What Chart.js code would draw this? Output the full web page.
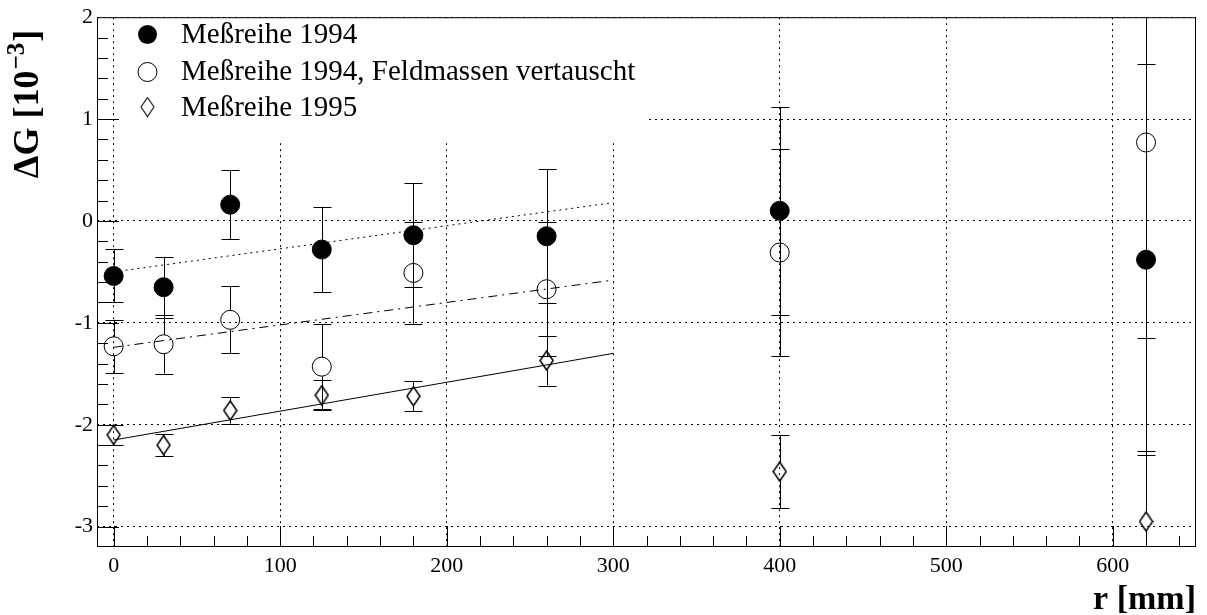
<!DOCTYPE html>
<html><head><meta charset="utf-8">
<script src="https://cdn.jsdelivr.net/npm/chart.js@4.4.1/dist/chart.umd.min.js"></script>
<style>html,body{margin:0;padding:0;background:#fff;} canvas{display:block;}</style>
</head><body>
<canvas id="c" width="1207" height="615"></canvas>
<script>
// ---- data ----
const rValues = [0, 30, 70, 125, 180, 260, 400, 620];
const series1994 = [-0.54, -0.65, 0.16, -0.28, -0.14, -0.15, 0.10, -0.38];
const err1994 = [0.26, 0.30, 0.34, 0.42, 0.51, 0.66, 1.02, 1.92];
const series1994swap = [-1.23, -1.21, -0.97, -1.43, -0.51, -0.67, -0.31, 0.77];
const err1994swap = [0.26, 0.29, 0.33, 0.42, 0.50, 0.66, 1.02, 1.92];
const series1995 = [-2.10, -2.20, -1.86, -1.71, -1.72, -1.37, -2.46, -2.95];
const err1995 = [0.10, 0.11, 0.13, 0.15, 0.145, 0.245, 0.36, 0.69];
const fitR = [0, 300];
const fit1994 = [-0.50, 0.18];
const fit1994swap = [-1.24, -0.58];
const fit1995 = [-2.15, -1.30];
const legendLabels = ['Meßreihe 1994', 'Meßreihe 1994, Feldmassen vertauscht', 'Meßreihe 1995'];
const xTicks = [0, 100, 200, 300, 400, 500, 600];
const yTicks = [-3, -2, -1, 0, 1, 2];
const yTitleParts = ['\u0394G [10', '\u22123', ']'];
const xTitle = 'r [mm]';

const SERIF = '"Liberation Serif", "Times New Roman", serif';
function pts(xs, ys) { return xs.map((x, i) => ({ x: x, y: ys[i] })); }

function makeDiamond(lw) {
  const c = document.createElement('canvas'); c.width = 15; c.height = 21;
  const g = c.getContext('2d'); g.strokeStyle = '#000'; g.lineWidth = lw;
  g.beginPath(); g.moveTo(7.5, 1); g.lineTo(14, 10.5); g.lineTo(7.5, 20); g.lineTo(1, 10.5); g.closePath(); g.stroke();
  return c;
}
const diamondImg = makeDiamond(1.5);
const diamondLegendImg = makeDiamond(1.1);

function drawMarker(ctx, kind, x, y) {
  ctx.save();
  ctx.strokeStyle = '#000'; ctx.fillStyle = '#000'; ctx.lineWidth = 1;
  if (kind === 'filled') { ctx.beginPath(); ctx.arc(x, y, 9.5, 0, Math.PI * 2); ctx.fill(); }
  else if (kind === 'open') { ctx.beginPath(); ctx.arc(x, y, 9.5, 0, Math.PI * 2); ctx.stroke(); }
  else { ctx.drawImage(diamondLegendImg, x - 7.5, y - 10.5); }
  ctx.restore();
}

// legend box (white, hides grid), drawn after the grid, before data
const legendBoxPlugin = {
  id: 'legendBox',
  beforeDatasetsDraw(chart) {
    const { ctx, chartArea: a } = chart;
    ctx.save(); ctx.fillStyle = '#fff';
    ctx.fillRect(121, a.top + 1, 645 - 121, 142 - a.top - 1);
    ctx.restore();
  },
  afterDatasetsDraw(chart) {
    const { ctx } = chart;
    const kinds = ['filled', 'open', 'diamond'];
    const my = [34.5, 72, 107];
    const by = [43, 80, 116];
    ctx.save();
    ctx.fillStyle = '#000'; ctx.font = '29px ' + SERIF; ctx.textBaseline = 'alphabetic'; ctx.textAlign = 'left';
    legendLabels.forEach((t, i) => {
      drawMarker(ctx, kinds[i], 147.5, my[i]);
      ctx.fillText(t, 181, by[i]);
    });
    ctx.restore();
  }
};

const errorBarPlugin = {
  id: 'errorBars',
  beforeDatasetsDraw(chart) {
    const { ctx, chartArea: a, scales: { x, y } } = chart;
    ctx.save();
    ctx.beginPath(); ctx.rect(a.left, a.top, a.right - a.left, a.bottom - a.top); ctx.clip();
    ctx.strokeStyle = '#000'; ctx.lineWidth = 1;
    chart.data.datasets.forEach(ds => {
      if (!ds.errors) return;
      ds.data.forEach((p, i) => {
        const e = ds.errors[i];
        const px = Math.round(x.getPixelForValue(p.x)) + 0.5;
        const py = y.getPixelForValue(p.y);
        const pt = y.getPixelForValue(p.y + e), pb = y.getPixelForValue(p.y - e);
        const g = ds.gap;
        ctx.beginPath();
        if (pt < py - g) { ctx.moveTo(px, pt); ctx.lineTo(px, py - g); }
        if (pb > py + g) { ctx.moveTo(px, py + g); ctx.lineTo(px, pb); }
        const ct = Math.round(pt) + 0.5, cb = Math.round(pb) + 0.5;
        ctx.moveTo(px - 9, ct); ctx.lineTo(px + 9, ct);
        ctx.moveTo(px - 9, cb); ctx.lineTo(px + 9, cb);
        ctx.stroke();
      });
    });
    ctx.restore();
  }
};

const framePlugin = {
  id: 'frame',
  afterDraw(chart) {
    const { ctx, chartArea: a, scales: { x, y } } = chart;
    ctx.save();
    ctx.strokeStyle = '#000'; ctx.lineWidth = 1;
    ctx.strokeRect(a.left + 0.5, a.top + 0.5, a.right - a.left - 1, a.bottom - a.top - 1);
    ctx.beginPath();
    for (let t = -15; t <= 9; t++) {
      const py = Math.round(y.getPixelForValue(t / 5)) + 0.5;
      const len = (t % 5 === 0) ? 22 : 11;
      ctx.moveTo(a.left, py); ctx.lineTo(a.left + len, py);
    }
    for (let v = 0; v <= 640; v += 20) {
      const px = Math.round(x.getPixelForValue(v)) + 0.5;
      const len = (v % 100 === 0) ? 21 : 11;
      ctx.moveTo(px, a.bottom); ctx.lineTo(px, a.bottom - len);
    }
    ctx.stroke();
    // y axis title with superscript
    ctx.translate(38, 105);
    ctx.rotate(-Math.PI / 2);
    ctx.fillStyle = '#000'; ctx.textBaseline = 'alphabetic'; ctx.textAlign = 'left';
    const big = 'bold 36px ' + SERIF, small = 'bold 25px ' + SERIF;
    ctx.font = big; const w0 = ctx.measureText(yTitleParts[0]).width; const w2 = ctx.measureText(yTitleParts[2]).width;
    ctx.font = small; const w1 = ctx.measureText(yTitleParts[1]).width;
    let sx = -(w0 + w1 + w2) / 2;
    ctx.font = big; ctx.fillText(yTitleParts[0], sx, 0); sx += w0 + 1;
    ctx.font = small; ctx.fillText(yTitleParts[1], sx, -14); sx += w1 + 1;
    ctx.font = big; ctx.fillText(yTitleParts[2], sx, 0);
    ctx.restore();
  }
};

const chart = new Chart(document.getElementById('c'), {
  type: 'scatter',
  data: {
    datasets: [
      { type: 'line', data: pts(fitR, fit1994), borderColor: '#000', borderWidth: 1, borderDash: [2, 4], pointRadius: 0, fill: false },
      { type: 'line', data: pts(fitR, fit1994swap), borderColor: '#000', borderWidth: 1, borderDash: [9, 5, 2, 5], pointRadius: 0, fill: false },
      { type: 'line', data: pts(fitR, fit1995), borderColor: '#000', borderWidth: 1, pointRadius: 0, fill: false },
      { label: legendLabels[0], data: pts(rValues, series1994), errors: err1994, gap: 9.5,
        pointStyle: 'circle', pointRadius: 9.5, backgroundColor: '#000', borderColor: '#000', borderWidth: 1 },
      { label: legendLabels[1], data: pts(rValues, series1994swap), errors: err1994swap, gap: 9.5,
        pointStyle: 'circle', pointRadius: 9.5, backgroundColor: 'rgba(0,0,0,0)', borderColor: '#000', borderWidth: 1 },
      { label: legendLabels[2], data: pts(rValues, series1995), errors: err1995, gap: 9.5,
        pointStyle: diamondImg, pointRadius: 10, backgroundColor: 'rgba(0,0,0,0)', borderColor: '#000', borderWidth: 1 }
    ]
  },
  options: {
    responsive: false, animation: false, devicePixelRatio: 1,
    layout: { padding: { top: 14, right: 9, left: 0, bottom: 0 } },
    plugins: { legend: { display: false }, tooltip: { enabled: false } },
    scales: {
      x: {
        type: 'linear', min: -10, max: 650,
        afterBuildTicks: s => { s.ticks = xTicks.map(v => ({ value: v })); },
        afterFit: s => { s.height = 68; },
        grid: { color: '#000', lineWidth: 1, drawTicks: false },
        border: { display: false, dash: [2, 4] },
        ticks: { color: '#000', font: { family: SERIF, size: 22 }, padding: 6, maxRotation: 0, autoSkip: false },
        title: { display: true, text: xTitle, align: 'end', color: '#000',
          font: { family: SERIF, size: 34, weight: 'bold', lineHeight: 1.2 }, padding: { top: 0, bottom: -6 } }
      },
      y: {
        type: 'linear', min: -3.2, max: 2,
        afterBuildTicks: s => { s.ticks = yTicks.map(v => ({ value: v })); },
        afterFit: s => { s.width = 97; },
        grid: { color: '#000', lineWidth: 1, drawTicks: false },
        border: { display: false, dash: [2, 4] },
        ticks: { color: '#000', font: { family: SERIF, size: 22 }, padding: 4, autoSkip: false }
      }
    }
  },
  plugins: [legendBoxPlugin, errorBarPlugin, framePlugin]
});
</script>
</body></html>
